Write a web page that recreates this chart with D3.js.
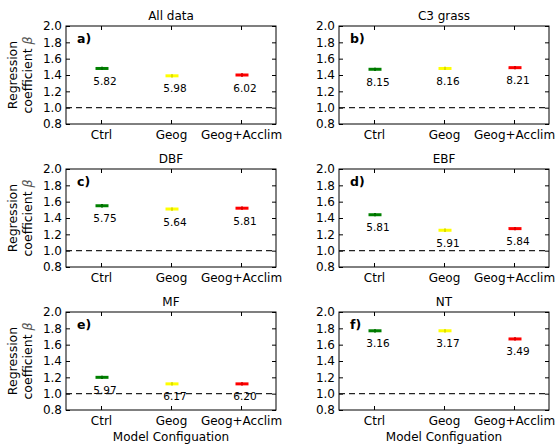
<!DOCTYPE html>
<html>
<head>
<meta charset="utf-8">
<script src="https://cdn.jsdelivr.net/npm/d3@7"></script>
<style>
  body { margin: 0; background: #fff; }
  svg text { font-family: "DejaVu Sans", sans-serif; fill: #000; }
  .axis path { display: none; }
  .axis line { stroke: #000; }
</style>
</head>
<body>
<svg id="chart" width="558" height="448"></svg>
<script>
// model configurations on the x axis
var categories = ["Ctrl", "Geog", "Geog+Acclim"];
var colours = ["#008000", "#ffff00", "#ff0000"];

// one entry per panel
var panelTitles = ["All data", "C3 grass", "DBF", "EBF", "MF", "NT"];
var panelLetters = ["a)", "b)", "c)", "d)", "e)", "f)"];

// regression coefficient beta per panel
var betaCtrl   = [1.48, 1.47, 1.55, 1.44, 1.20, 1.77];
var betaGeog   = [1.39, 1.48, 1.51, 1.25, 1.12, 1.77];
var betaAcclim = [1.40, 1.49, 1.52, 1.27, 1.12, 1.67];
var errCtrl    = [0.02, 0.02, 0.02, 0.02, 0.02, 0.02];
var errGeog    = [0.02, 0.02, 0.02, 0.02, 0.02, 0.02];
var errAcclim  = [0.02, 0.02, 0.02, 0.02, 0.02, 0.02];

// numbers printed under each mark
var labelCtrl   = ["5.82", "8.15", "5.75", "5.81", "5.97", "3.16"];
var labelGeog   = ["5.98", "8.16", "5.64", "5.91", "6.17", "3.17"];
var labelAcclim = ["6.02", "8.21", "5.81", "5.84", "6.20", "3.49"];

var yTicks = [0.8, 1.0, 1.2, 1.4, 1.6, 1.8, 2.0];
var yDomain = [0.8, 2.0];
var refLine = 1.0;

var svg = d3.select("#chart");

// panel geometry
var colX = [66, 339];
var rowY = [26, 169, 312];
var pw = 210, ph = 98;

var x = d3.scalePoint().domain(categories).range([0, pw]).padding(0.5);
var y = d3.scaleLinear().domain(yDomain).range([ph, 0]);

panelTitles.forEach(function(title, i) {
  var col = i % 2, row = Math.floor(i / 2);
  var g = svg.append("g")
    .attr("transform", "translate(" + colX[col] + "," + rowY[row] + ")");

  // ticks pointing inward on all four sides
  g.append("g").attr("class", "axis")
    .call(d3.axisLeft(y).tickValues(yTicks).tickFormat(d3.format(".1f"))
      .tickSize(-4).tickPadding(4))
    .selectAll("text").style("font-size", "12px");
  g.append("g").attr("class", "axis")
    .attr("transform", "translate(" + pw + ",0)")
    .call(d3.axisRight(y).tickValues(yTicks).tickFormat("").tickSize(-4));
  g.append("g").attr("class", "axis")
    .attr("transform", "translate(0," + ph + ")")
    .call(d3.axisBottom(x).tickSize(-4).tickPadding(6))
    .selectAll("text").style("font-size", "12px");
  g.append("g").attr("class", "axis")
    .call(d3.axisTop(x).tickFormat("").tickSize(-4));

  // dashed line at beta = 1
  g.append("line")
    .attr("x1", 0).attr("x2", pw)
    .attr("y1", y(refLine)).attr("y2", y(refLine))
    .attr("stroke", "#222").attr("stroke-width", 1.2)
    .attr("stroke-dasharray", "6,4");

  g.append("rect")
    .attr("width", pw).attr("height", ph)
    .attr("fill", "none").attr("stroke", "#000").attr("stroke-width", 1);

  var pts = [
    {c: categories[0], v: betaCtrl[i],   e: errCtrl[i],   t: labelCtrl[i]},
    {c: categories[1], v: betaGeog[i],   e: errGeog[i],   t: labelGeog[i]},
    {c: categories[2], v: betaAcclim[i], e: errAcclim[i], t: labelAcclim[i]}
  ];

  pts.forEach(function(d, j) {
    var cx = x(d.c) + 1;
    g.append("line")
      .attr("x1", cx - 6.5).attr("x2", cx + 6.5)
      .attr("y1", y(d.v)).attr("y2", y(d.v))
      .attr("stroke", colours[j]).attr("stroke-width", 3);
    g.append("line")
      .attr("x1", cx).attr("x2", cx)
      .attr("y1", y(d.v - d.e)).attr("y2", y(d.v + d.e))
      .attr("stroke", d3.color(colours[j]).darker(0.4)).attr("stroke-width", 2);
    g.append("text")
      .attr("x", cx + 3).attr("y", y(d.v) + 16.5)
      .attr("text-anchor", "middle")
      .style("font-size", "10.5px")
      .text(d.t);
  });

  g.append("text")
    .attr("x", 11).attr("y", 17)
    .style("font-size", "12.5px").style("font-weight", "bold")
    .text(panelLetters[i]);

  g.append("text")
    .attr("x", pw / 2).attr("y", -6)
    .attr("text-anchor", "middle")
    .style("font-size", "12px")
    .text(title);

  if (col === 0) {
    var yl = g.append("text")
      .attr("transform", "translate(-47," + ph / 2 + ") rotate(-90)")
      .attr("text-anchor", "middle")
      .style("font-size", "12.5px");
    yl.append("tspan").attr("x", 0).attr("dy", "-0.2em").text("Regression");
    var l2 = yl.append("tspan").attr("x", 0).attr("dy", "1.2em").text("coefficient ");
    l2.append("tspan").style("font-style", "italic").style("fill", "#555").text("β");
  }

  if (row === 2) {
    g.append("text")
      .attr("x", pw / 2).attr("y", ph + 31)
      .attr("text-anchor", "middle")
      .style("font-size", "12px")
      .text("Model Configuation");
  }
});
</script>
</body>
</html>
